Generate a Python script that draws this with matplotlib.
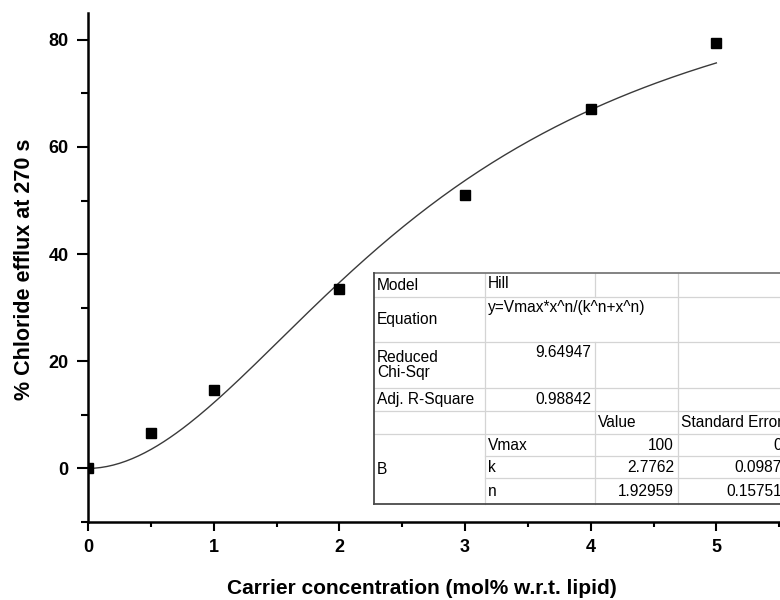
import numpy as np
import matplotlib.pyplot as plt
from matplotlib.lines import Line2D
from matplotlib.patches import Rectangle
from matplotlib.ticker import MultipleLocator

plt.rcParams['font.family'] = ['Liberation Sans', 'DejaVu Sans']

# Measured data
conc = [0, 0.5, 1, 2, 3, 4, 5]
efflux = [0, 6.6, 14.6, 33.4, 51.1, 67.1, 79.4]

# Hill fit parameters (from the fit table)
vmax = 100
k_half = 2.7762
n_hill = 1.92959
red_chi = "9.64947"
adj_r2 = "0.98842"
param_names = ["Vmax", "k", "n"]
param_values = ["100", "2.7762", "1.92959"]
param_errors = ["0", "0.0987", "0.15751"]

W, H = 780, 600
fig = plt.figure(figsize=(W / 100, H / 100), dpi=100)
# axes runs past the right edge, like the cropped original
ax = fig.add_axes([88 / W, 78 / H, 754 / W, 509 / H])

x_fit = np.linspace(0, 5, 200)
y_fit = vmax * x_fit ** n_hill / (k_half ** n_hill + x_fit ** n_hill)
ax.plot(x_fit, y_fit, color='#3a3a3a', lw=1.0)
ax.plot(conc, efflux, 's', color='black', ms=7.6)

ax.set_xlim(0, 6)
ax.set_ylim(-10, 85)
ax.xaxis.set_major_locator(MultipleLocator(1))
ax.xaxis.set_minor_locator(MultipleLocator(0.5))
ax.yaxis.set_major_locator(MultipleLocator(20))
ax.yaxis.set_minor_locator(MultipleLocator(10))
for s in ['top', 'right']:
    ax.spines[s].set_visible(False)
for s in ['left', 'bottom']:
    ax.spines[s].set_linewidth(1.8)
ax.tick_params(axis='x', which='major', length=6.5, width=1.5, labelsize=13, pad=6)
ax.tick_params(axis='x', which='minor', length=3.5, width=1.5)
ax.tick_params(axis='y', which='major', length=8, width=1.5, labelsize=13, pad=6)
ax.tick_params(axis='y', which='minor', length=5, width=1.5)
for lab in ax.get_xticklabels() + ax.get_yticklabels():
    lab.set_fontweight('bold')

ax.set_xlabel('Carrier concentration (mol% w.r.t. lipid)', fontsize=15,
              fontweight='bold', va='center')
ax.xaxis.set_label_coords((422 - 88) / 754, -(588 - 522) / 509)
ax.set_ylabel('% Chloride efflux at 270 s', fontsize=15.5, fontweight='bold',
              va='center')
ax.yaxis.set_label_coords(-(88 - 25) / 754, (522 - 269) / 509)

# --- fit result table, drawn in figure pixels ---
def fx(x):
    return x / W

def fy(y):
    return 1 - y / H

cols = [374, 485, 595, 678, 786]
rows = [273, 297, 342, 388, 411, 434, 456, 478, 504]
grid_c = '#d4d4d4'
tf = fig.transFigure

fig.add_artist(Rectangle((fx(cols[0]), fy(rows[-1])), fx(cols[-1] - cols[0]),
                         (rows[-1] - rows[0]) / H, transform=tf,
                         facecolor='white', edgecolor='none', zorder=2))

def hline(y, x0, x1, c=grid_c, lw=0.9):
    fig.add_artist(Line2D([fx(x0), fx(x1)], [fy(y), fy(y)], transform=tf,
                          color=c, lw=lw, zorder=3))

def vline(x, y0, y1, c=grid_c, lw=0.9):
    fig.add_artist(Line2D([fx(x), fx(x)], [fy(y0), fy(y1)], transform=tf,
                          color=c, lw=lw, zorder=3))

for i in range(1, len(rows) - 1):
    start = cols[1] if i in (6, 7) else cols[0]
    hline(rows[i], start, cols[-1])
vline(cols[1], rows[0], rows[-1])
vline(cols[2], rows[0], rows[1])
vline(cols[2], rows[2], rows[-1])
vline(cols[3], rows[0], rows[-1])
# outer border
hline(rows[0], cols[0], cols[-1], c='#7a7a7a', lw=1.3)
hline(rows[-1], cols[0], cols[-1], c='#4a4a4a', lw=1.3)
vline(cols[0], rows[0], rows[-1], c='#4a4a4a', lw=1.3)

def cell(txt, col, r0, r1=None, ha='left', va='center'):
    r1 = r0 if r1 is None else r1
    if ha == 'left':
        x = cols[col] + 3
    else:
        x = cols[col + 1] - 4
    if va == 'center':
        y = (rows[r0] + rows[r1 + 1]) / 2
    else:
        y = rows[r0] + 3
    fig.text(fx(x), fy(y), txt, ha=ha, va=va, fontsize=11.2, zorder=4,
             linespacing=1.0)

cell('Model', 0, 0)
cell('Hill', 1, 0, va='top')
cell('Equation', 0, 1)
cell('y=Vmax*x^n/(k^n+x^n)', 1, 1, va='top')
cell('Reduced\nChi-Sqr', 0, 2)
cell(red_chi, 1, 2, ha='right', va='top')
cell('Adj. R-Square', 0, 3)
cell(adj_r2, 1, 3, ha='right')
cell('Value', 2, 4)
cell('Standard Error', 3, 4)
cell('B', 0, 5, 7)
for i in range(3):
    cell(param_names[i], 1, 5 + i)
    cell(param_values[i], 2, 5 + i, ha='right')
    cell(param_errors[i], 3, 5 + i, ha='right')

fig.savefig('out.png', dpi=100)
